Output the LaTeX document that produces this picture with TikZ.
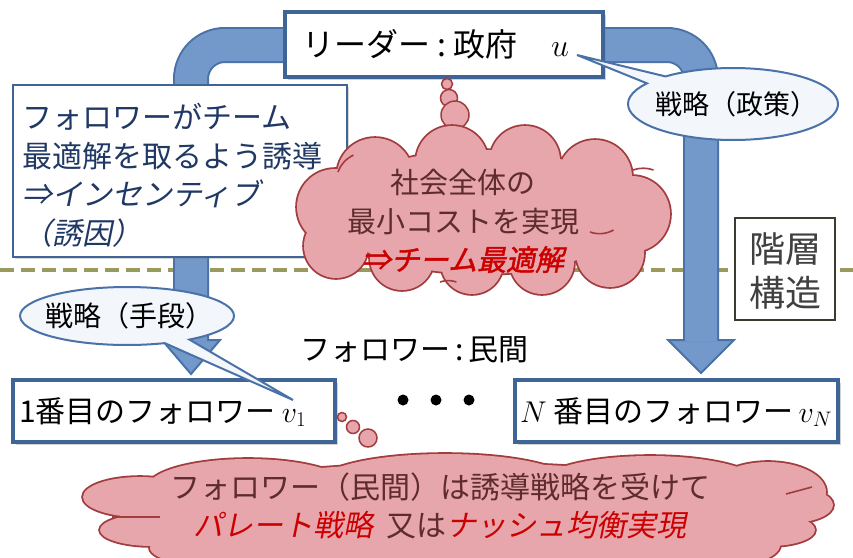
\documentclass[tikz,border=0pt]{standalone}
\usepackage{fix-cm}
\usepackage{fontspec}
\newfontfamily\jp{Noto Sans CJK JP}
\newfontfamily\jpit{Noto Sans CJK JP}[FakeSlant=0.2]
\newfontfamily\jpbi{Noto Sans CJK JP}[FakeSlant=0.2,FakeBold=1.5]
\usetikzlibrary{shapes.callouts,shadows}
\definecolor{boxblue}{HTML}{3F6596}
\definecolor{pipefill}{HTML}{7399CB}
\definecolor{pipeline}{HTML}{4A72A8}
\definecolor{calloutfill}{HTML}{F3F6FB}
\definecolor{cloudfill}{HTML}{E6A6AB}
\definecolor{cloudline}{HTML}{A23C3E}
\definecolor{cloudtext}{HTML}{5E2C2C}
\definecolor{hotred}{HTML}{CC0000}
\definecolor{olivedash}{HTML}{9B9A5E}
\definecolor{navytext}{HTML}{1F3864}
\definecolor{graybox}{HTML}{3B3B2E}
\newcommand{\midcloudparts}[1]{%
  \path[#1] (482,212) ellipse [x radius=150, y radius=62];
  \path[#1] (375,176) circle [radius=38];
  \path[#1] (452,162) circle [radius=36];
  \path[#1] (525,161) circle [radius=35];
  \path[#1] (595,177) circle [radius=37];
  \path[#1] (632,214) circle [radius=38];
  \path[#1] (610,253) circle [radius=34];
  \path[#1] (542,262) circle [radius=32];
  \path[#1] (472,263) circle [radius=31];
  \path[#1] (402,258) circle [radius=32];
  \path[#1] (336,246) circle [radius=32];
  \path[#1] (335,207) circle [radius=38];
}
\newcommand{\lowcloudparts}[1]{%
  \path[#1] (458,518) ellipse [x radius=330, y radius=55];
  \path[#1] (140,497) ellipse [x radius=57, y radius=20];
  \path[#1] (152,530) ellipse [x radius=52, y radius=16];
  \path[#1] (248,487) ellipse [x radius=100, y radius=28];
  \path[#1] (445,482) ellipse [x radius=125, y radius=28];
  \path[#1] (650,484) ellipse [x radius=110, y radius=28];
  \path[#1] (768,492) ellipse [x radius=58, y radius=30];
  \path[#1] (790,505) ellipse [x radius=43, y radius=18];
  \path[#1] (770,530) ellipse [x radius=45, y radius=16];
  \path[#1] (700,545) ellipse [x radius=80, y radius=25];
  \path[#1] (250,548) ellipse [x radius=100, y radius=22];
}
\begin{document}
\begin{tikzpicture}[x=1pt,y=-1pt,
  bluebox/.style={draw=boxblue, line width=3.5pt, fill=white, inner sep=0pt,
    drop shadow={opacity=0.35, shadow xshift=3pt, shadow yshift=-3pt}},
  thinbox/.style={draw=boxblue, line width=2.5pt, fill=white, inner sep=0pt},
  layerbox/.style={draw=graybox, line width=2.5pt, fill=white, inner sep=0pt},
  dashline/.style={draw=olivedash, line width=4pt, dash pattern=on 14pt off 7pt},
  pipeouter/.style={draw=pipeline, line width=36pt, rounded corners=34pt},
  pipeinner/.style={draw=pipefill, line width=32pt, rounded corners=34pt},
  pipehead/.style={fill=pipefill, draw=pipeline, line width=2pt, line join=miter},
  bubble/.style={ellipse callout, draw=pipeline, line width=2pt, fill=calloutfill, inner sep=0pt},
  puff/.style={circle, draw=cloudline, line width=1.5pt, fill=cloudfill, inner sep=0pt},
  txt/.style={inner sep=0pt, font=\jp},
]
\useasboundingbox (0,0) rectangle (853,557);
\fill[white] (0,0) rectangle (853,557);

% dashed layer line
\coordinate (dl) at (0,270);
\coordinate (dr) at (853,270);
\draw[dashline] (dl) -- (dr);

% pipes (arrows)
\draw[pipeouter] (300,45) -- (191,45) -- (191,341);
\filldraw[pipehead] (162,340) -- (220,340) -- (191,374) -- cycle;
\draw[pipeinner] (300,45) -- (191,45) -- (191,341);

\draw[pipeouter] (570,45) -- (701,45) -- (701,341);
\filldraw[pipehead] (668,340) -- (734,340) -- (701,373) -- cycle;
\draw[pipeinner] (570,45) -- (701,45) -- (701,341);

% leader box
\node[bluebox, minimum width=318pt, minimum height=65pt] (leader) at (444,44.5) {};
\node[txt, anchor=west, font=\jp\fontsize{32}{38}\selectfont] (leadertxt) at (302,44)
  {リーダー\hspace{7pt}:\hspace{7pt}政府\hspace{34pt}$u$};

% left text box
\node[thinbox, minimum width=334pt, minimum height=172pt,
  drop shadow={opacity=0.3, shadow xshift=2pt, shadow yshift=-2pt}] (incent) at (180,171) {};
\node[txt, anchor=west, align=left, text=navytext, font=\jp\fontsize{30}{38.5}\selectfont] (incenttxt) at (22,175)
  {フォロワーがチーム\\最適解を取るよう誘導\\{\jpit ⇒インセンティブ}\\{\jpit （誘因）}};

% middle thought cloud
\node[puff, minimum size=11pt] (p1) at (447,84) {};
\node[puff, minimum size=17pt] (p2) at (449,98) {};
\node[puff, minimum size=28pt] (p3) at (455,115) {};
\midcloudparts{draw=cloudline, line width=3.6pt}
\midcloudparts{fill=cloudfill}
\draw[cloudline, line width=1.6pt] (338,172) arc [start angle=200, end angle=245, radius=30];
\draw[cloudline, line width=1.6pt] (633,170) arc [start angle=250, end angle=290, radius=30];
\draw[cloudline, line width=1.6pt] (590,232) arc [start angle=110, end angle=60, radius=28];
\draw[cloudline, line width=1.6pt] (440,282) arc [start angle=250, end angle=290, radius=24];
\node[txt, align=center, text=cloudtext, font=\jp\fontsize{29}{38.5}\selectfont] (teamtxt) at (463,221)
  {社会全体の\\最小コストを実現\\{\jpbi\color{hotred}⇒チーム最適解}};

% hierarchy box
\node[layerbox, minimum width=100pt, minimum height=102pt] (layer) at (785,269) {};
\node[txt, align=center, text=black!75, font=\jp\fontsize{36}{44}\selectfont] (layertxt) at (785,271)
  {階層\\構造};

% follower boxes
\node[bluebox, minimum width=322pt, minimum height=62pt] (f1) at (174,411) {};
\node[txt, anchor=west, font=\jp\fontsize{30}{36}\selectfont] (f1txt) at (19,412) {1番目のフォロワー\hspace{6pt}$v_{1}$};
\node[bluebox, minimum width=323pt, minimum height=62pt] (fN) at (676.5,411) {};
\node[txt, anchor=west, font=\jp\fontsize{30}{36}\selectfont] (fNtxt) at (520,412) {$N$\ 番目のフォロワー\,$v_{N}$};

% callouts
\coordinate (uptr) at (577,55);
\node[bubble, minimum width=210pt, minimum height=72pt, callout absolute pointer={(uptr)}] (policy) at (733,104) {};
\node[txt, font=\jp\fontsize{27}{32}\selectfont] (policytxt) at (736,104) {戦略（政策）};

\coordinate (vptr) at (293,400);
\node[bubble, minimum width=214pt, minimum height=58pt, callout absolute pointer={(vptr)}] (means) at (127,316) {};
\node[txt, font=\jp\fontsize{28}{32}\selectfont] (meanstxt) at (129,316) {戦略（手段）};

% followers label and dots
\node[txt, anchor=west, font=\jp\fontsize{30}{36}\selectfont] (folltxt) at (300,350) {フォロワー\hspace{5pt}:\hspace{5pt}民間};
\fill (403,400) circle (5.5pt);
\fill (436,400) circle (5.5pt);
\fill (469,400) circle (5.5pt);

% bottom thought cloud
\node[puff, minimum size=9pt] (q1) at (342,417) {};
\node[puff, minimum size=13pt] (q2) at (353,427) {};
\node[puff, minimum size=18pt] (q3) at (368,438) {};
\lowcloudparts{draw=cloudline, line width=3.6pt}
\lowcloudparts{fill=cloudfill}
\draw[cloudline, line width=1.6pt] (112,517) -- (160,517);
\draw[cloudline, line width=1.6pt] (786,494) -- (812,487);
\node[txt, align=center, text=cloudtext, font=\jp\fontsize{30}{38}\selectfont] (resulttxt) at (440,506)
  {フォロワー（民間）は誘導戦略を受けて\\{\jpit\color{hotred}パレート戦略}\ \ 又は{\jpit\color{hotred}ナッシュ均衡実現}};
\end{tikzpicture}
\end{document}
